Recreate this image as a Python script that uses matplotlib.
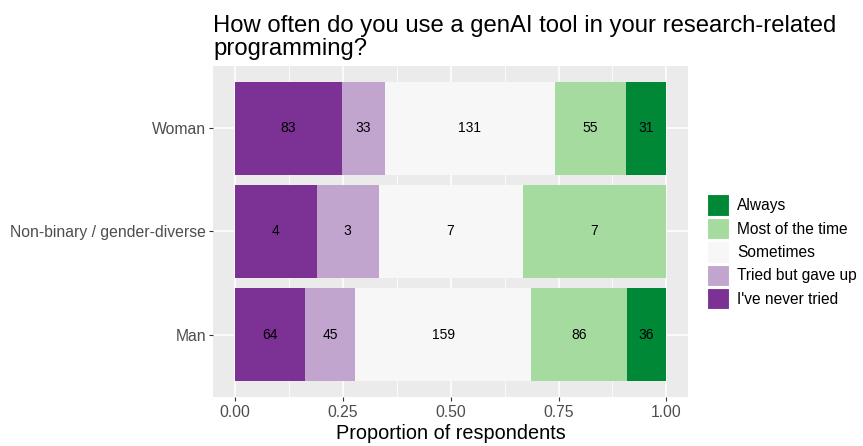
import numpy as np
import matplotlib
matplotlib.use("Agg")
import matplotlib.pyplot as plt
from matplotlib.patches import Patch

plt.rcParams['font.family'] = ['Liberation Sans', 'DejaVu Sans']

groups = ["Man", "Non-binary / gender-diverse", "Woman"]
levels = ["I've never tried", "Tried but gave up", "Sometimes", "Most of the time", "Always"]
colors = ["#7B3294", "#C2A5CF", "#F7F7F7", "#A6DBA0", "#008837"]
counts = {
    "Man": [64, 45, 159, 86, 36],
    "Non-binary / gender-diverse": [4, 3, 7, 7, 0],
    "Woman": [83, 33, 131, 55, 31],
}

fig = plt.figure(figsize=(8.63, 4.46), dpi=100)
ax = fig.add_axes([0.2468, 0.110, 0.5505, 0.742])
ax.set_facecolor("#EBEBEB")

for i, g in enumerate(groups):
    c = np.array(counts[g], dtype=float)
    p = c / c.sum()
    left = 0.0
    for k in range(len(levels)):
        if c[k] > 0:
            ax.barh(i, p[k], left=left, height=0.9, color=colors[k], zorder=3)
            ax.text(left + p[k] / 2, i, "%d" % c[k], ha="center", va="center",
                    fontsize=10, color="black", zorder=4)
        left += p[k]

ax.set_xlim(-0.05, 1.05)
ax.set_ylim(-0.6, 2.6)
ax.set_xticks([0, 0.25, 0.5, 0.75, 1.0])
ax.set_xticklabels(["0.00", "0.25", "0.50", "0.75", "1.00"])
ax.set_xticks([0.125, 0.375, 0.625, 0.875], minor=True)
ax.set_yticks(range(len(groups)))
ax.set_yticklabels(groups)
ax.grid(True, which="major", color="white", linewidth=1.1, zorder=1)
ax.grid(True, which="minor", axis="x", color="white", linewidth=0.55, zorder=1)
ax.tick_params(which="major", length=3, color="#333333", labelcolor="#4D4D4D",
               labelsize=11.3, pad=2)
ax.tick_params(axis="x", pad=3)
ax.tick_params(which="minor", length=0)
for s in ax.spines.values():
    s.set_visible(False)

ax.set_xlabel("Proportion of respondents", fontsize=14.3, labelpad=3)
ax.set_title("How often do you use a genAI tool in your research-related\nprogramming?",
             fontsize=17.2, loc="left", ha="left", pad=8, linespacing=1.05)

handles = [Patch(facecolor=colors[k], edgecolor="white", linewidth=0.8, label=levels[k])
           for k in reversed(range(len(levels)))]
fig.legend(handles=handles, loc="center left", bbox_to_anchor=(0.8125, 0.435),
           frameon=False, fontsize=11.2, handlelength=1.4, handleheight=1.75,
           labelspacing=0.12, handletextpad=0.5, borderaxespad=0)

fig.savefig("out.png", dpi=100)
